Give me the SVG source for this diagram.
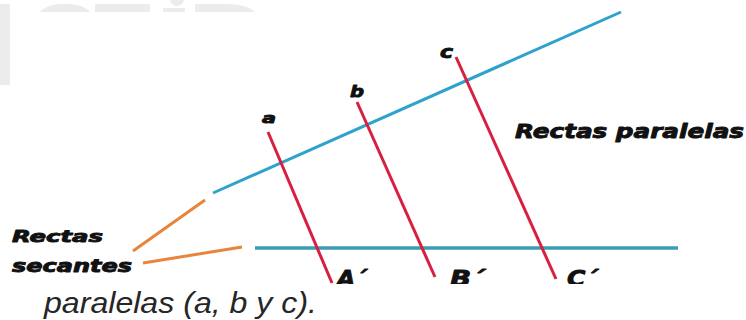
<svg xmlns="http://www.w3.org/2000/svg" width="746" height="320" viewBox="0 0 746 320">
<defs>
<style>
.blue{stroke:#2ea2cc;stroke-width:3;fill:none;stroke-linecap:butt}
.teal{stroke:#3a9db2;stroke-width:3.5;fill:none}
.red{stroke:#d81f3f;stroke-width:3;fill:none;stroke-linecap:butt}
.orange{stroke:#e9843c;stroke-width:3;fill:none;stroke-linecap:butt}
.lbl{font-family:"DejaVu Sans",Verdana,sans-serif;font-weight:bold;font-style:italic;fill:#111;stroke:#111;stroke-width:0.9;stroke-linejoin:round}
.cap{font-family:"Liberation Sans",Arial,sans-serif;font-style:italic;fill:#262626}
.wm{fill:#ececec}
</style>
<clipPath id="imgclip"><rect x="0" y="0" width="746" height="284"/></clipPath>
</defs>
<rect width="746" height="320" fill="#ffffff"/>
<g id="watermark">
<rect class="wm" x="0" y="4" width="10" height="81"/>
<path class="wm" d="M40 12 C48 1 82 1 90 12 Z"/>
<rect class="wm" x="95" y="4" width="55" height="8"/>
<circle class="wm" cx="177" cy="-1" r="7"/>
<rect class="wm" x="163" y="8" width="22" height="4"/>
<path class="wm" d="M195 12 L195 4 L225 4 C240 4 250 7 255 12 Z"/>
</g>
<g id="connectors">
<line class="blue" x1="213" y1="193" x2="621" y2="12"/>
<line class="teal" x1="255" y1="248" x2="678" y2="248"/>
<line class="red" x1="268" y1="132" x2="332" y2="283"/>
<line class="red" x1="357" y1="102" x2="435" y2="277"/>
<line class="red" x1="456" y1="57" x2="556" y2="279"/>
<line class="orange" x1="205" y1="200" x2="133" y2="251"/>
<line class="orange" x1="242" y1="247" x2="143" y2="263"/>
</g>
<g id="label-a"><text class="lbl" x="262" y="123" font-size="14" textLength="14" lengthAdjust="spacingAndGlyphs">a</text></g>
<g id="label-b"><text class="lbl" x="350" y="97" font-size="16" textLength="14" lengthAdjust="spacingAndGlyphs">b</text></g>
<g id="label-c"><text class="lbl" x="440" y="58" font-size="17" textLength="13" lengthAdjust="spacingAndGlyphs">c</text></g>
<g id="label-paralelas"><text class="lbl" x="515" y="138" font-size="19" textLength="229" lengthAdjust="spacingAndGlyphs">Rectas paralelas</text></g>
<g id="label-secantes">
<text class="lbl" x="12" y="242" font-size="16" textLength="91" lengthAdjust="spacingAndGlyphs">Rectas</text>
<text class="lbl" x="12" y="272" font-size="17" textLength="120" lengthAdjust="spacingAndGlyphs">secantes</text>
</g>
<g id="points" clip-path="url(#imgclip)">
<text class="lbl" x="337" y="286" font-size="22" textLength="30" lengthAdjust="spacingAndGlyphs">A´</text>
<text class="lbl" x="450" y="286" font-size="22" textLength="35" lengthAdjust="spacingAndGlyphs">B´</text>
<text class="lbl" x="567" y="286" font-size="22" textLength="31" lengthAdjust="spacingAndGlyphs">C´</text>
</g>
<g id="caption"><text class="cap" x="44" y="313" font-size="29" textLength="273" lengthAdjust="spacingAndGlyphs">paralelas (a, b y c).</text></g>
</svg>
